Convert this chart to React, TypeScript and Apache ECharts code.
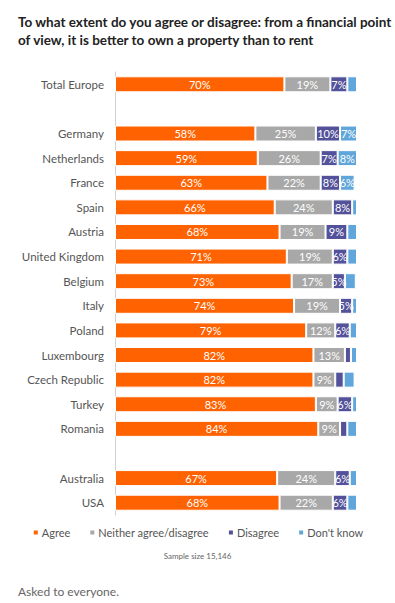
import React, { useEffect, useRef } from "react";
import * as echarts from "echarts";

const categories = [
  "Total Europe", " ", "Germany", "Netherlands", "France", "Spain", "Austria",
  "United Kingdom", "Belgium", "Italy", "Poland", "Luxembourg", "Czech Republic",
  "Turkey", "Romania", "  ", "Australia", "USA",
];
const agree = [70, null, 58, 59, 63, 66, 68, 71, 73, 74, 79, 82, 82, 83, 84, null, 67, 68];
const neither = [19, null, 25, 26, 22, 24, 19, 19, 17, 19, 12, 13, 9, 9, 9, null, 24, 22];
const disagree = [7, null, 10, 7, 8, 8, 9, 6, 5, 5, 6, 2.5, 3.5, 6, 3, null, 6, 6];
const dontKnow = [4, null, 7, 8, 6, 2, 4, 4, 4.5, 2, 3, 2.5, 4.5, 2, 4, null, 3, 4];

const seriesNames = ["Agree", "Neither agree/disagree", "Disagree", "Don't know"];
const seriesData = [agree, neither, disagree, dontKnow];
const colors = ["#ff6200", "#a8a8a8", "#525199", "#60a6da"];

const FONT = "Lato, 'Open Sans', sans-serif";

export default function App() {
  const ref = useRef<HTMLDivElement>(null);
  useEffect(() => {
    const chart = echarts.init(ref.current!, null, { renderer: "svg" });
    chart.setOption({
      animation: false,
      textStyle: { fontFamily: FONT },
      title: [
        {
          text: "To what extent do you agree or disagree: from a financial point\nof view, it is better to own a property than to rent",
          left: 13,
          top: 8,
          textStyle: { fontSize: 13.5, fontWeight: "bold", color: "#222", lineHeight: 18, fontFamily: FONT },
        },
        {
          text: "Sample size 15,146",
          left: "center",
          top: 547,
          textStyle: { fontSize: 8, fontWeight: "normal", color: "#666", fontFamily: FONT },
        },
        {
          text: "Asked to everyone.",
          left: 13,
          top: 580,
          textStyle: { fontSize: 12, fontWeight: "normal", color: "#666", fontFamily: FONT },
        },
      ],
      legend: {
        data: seriesNames,
        top: 522,
        left: "center",
        icon: "rect",
        itemWidth: 6,
        itemHeight: 6,
        itemGap: 18,
        textStyle: { fontSize: 11, color: "#555", fontFamily: FONT, padding: [0, 0, 0, -2] },
      },
      grid: { left: 115, right: 38, top: 72, bottom: 88, containLabel: false },
      xAxis: {
        type: "value",
        min: 0,
        max: 100,
        show: false,
      },
      yAxis: {
        type: "category",
        data: categories,
        inverse: true,
        axisLine: { show: true, lineStyle: { color: "#d0d0d0", width: 1 } },
        axisTick: { show: false },
        axisLabel: { color: "#555", fontSize: 11.5, margin: 11, fontFamily: FONT },
      },
      series: seriesNames.map((name, i) => ({
        name,
        type: "bar",
        stack: "total",
        barWidth: 16,
        data: seriesData[i],
        itemStyle: { color: colors[i], borderColor: "#fff", borderWidth: 1 },
        label: {
          show: true,
          position: "inside",
          color: "#fff",
          fontSize: 11,
          fontFamily: FONT,
          formatter: (p: any) => (p.value != null && p.value >= 5 ? p.value + "%" : ""),
        },
      })),
    });
    return () => chart.dispose();
  }, []);
  return (
    <div
      ref={ref}
      style={{ position: "fixed", left: 0, top: 0, width: 395, height: 603, background: "#fff" }}
    />
  );
}
